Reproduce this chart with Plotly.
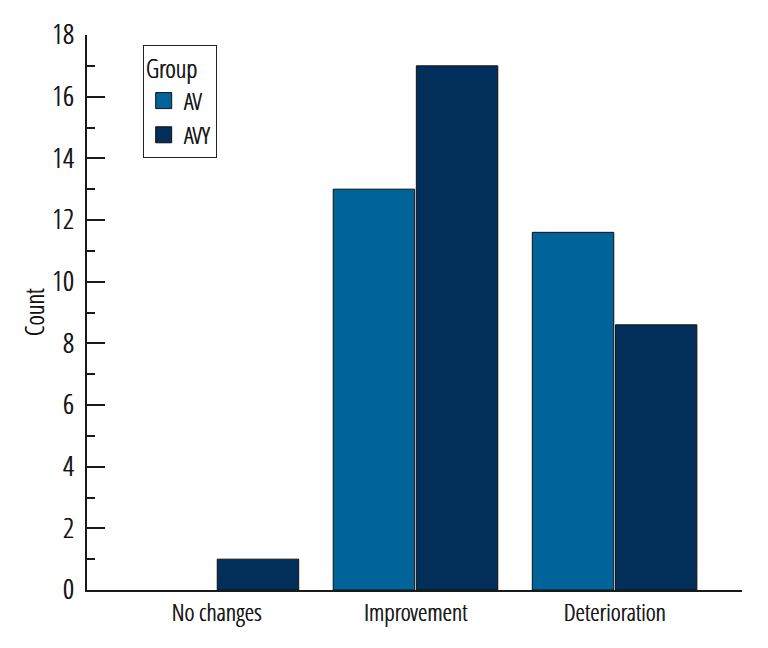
import plotly.graph_objects as go

categories = ["No changes", "Improvement", "Deterioration"]
av_values = [0, 13, 11.6]
avy_values = [1, 17, 8.6]
y_ticks = [0, 2, 4, 6, 8, 10, 12, 14, 16, 18]
group_names = ["AV", "AVY"]
group_colors = ["#00649a", "#022e5a"]

FONT = "Open Sans Condensed Light, DejaVu Sans Condensed, sans-serif"
TXT = "#111111"
SHADOW = "0.6px 0 0 #111111"
AXC = "#1a1a1a"

def f(size):
    return dict(family=FONT, size=size, color=TXT, shadow=SHADOW)

fig = go.Figure()
for name, vals, col in zip(group_names, [av_values, avy_values], group_colors):
    fig.add_trace(go.Bar(name=name, x=categories, y=vals, showlegend=False,
                         marker=dict(color=col,
                                     line=dict(color="#111111", width=[0 if v == 0 else 1 for v in vals]))))
for name, col in zip(group_names, group_colors):
    fig.add_trace(go.Scatter(name=name, x=[None], y=[None], mode="markers",
                             marker=dict(symbol="square", size=17, color=col,
                                         line=dict(color="#111111", width=1))))

fig.update_layout(
    width=768, height=648,
    margin=dict(l=79, r=34, t=27, b=66),
    paper_bgcolor="white", plot_bgcolor="white",
    barmode="group", bargap=0.165, bargroupgap=0.02,
    font=f(23),
    showlegend=True,
    legend=dict(title=dict(text="Group", font=f(25)),
                x=0.085, y=0.982, xanchor="left", yanchor="top",
                bordercolor="#222222", borderwidth=1, bgcolor="white",
                font=f(24), tracegroupgap=0, itemwidth=30),
)
fig.update_xaxes(type="category", range=[-0.65, 2.64], showline=True, linecolor=AXC,
                 linewidth=2, ticks="", showgrid=False, zeroline=False, automargin=False,
                 tickfont=f(24))
fig.update_yaxes(range=[0, 18], tickvals=y_ticks, showline=True, linecolor=AXC,
                 linewidth=2, ticks="inside", ticklen=18, tickwidth=2, tickcolor=AXC,
                 minor=dict(dtick=1, ticks="inside", ticklen=8, tickwidth=2, tickcolor=AXC),
                 showgrid=False, zeroline=False, tickfont=f(27), automargin=False,
                 title=dict(text="Count", font=f(25), standoff=0),
                 ticklabelstandoff=6)

fig.write_html("out.html")
